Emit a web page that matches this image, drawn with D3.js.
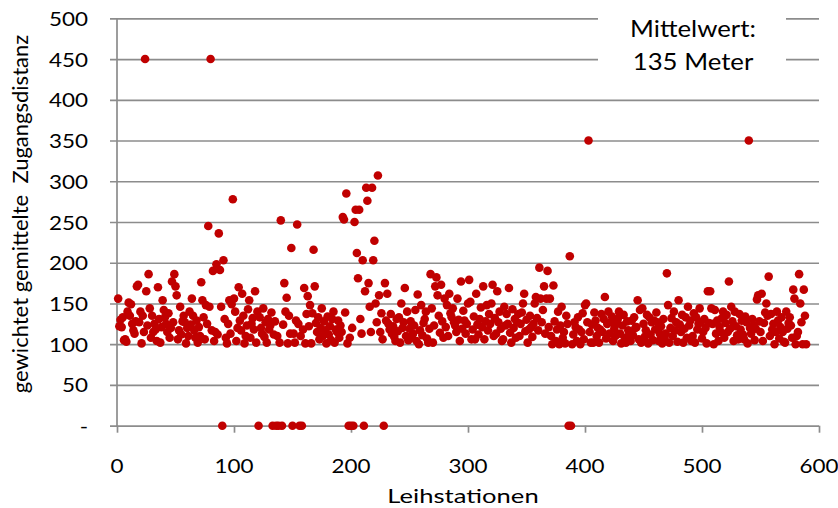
<!DOCTYPE html>
<html>
<head>
<meta charset="utf-8">
<script src="https://cdn.jsdelivr.net/npm/d3@7/dist/d3.min.js"></script>
<style>
  html, body { margin: 0; padding: 0; background: #fff; }
  svg { display: block; font-family: Lato, "Open Sans", sans-serif; }
</style>
</head>
<body>
<svg id="chart" width="838" height="508"></svg>
<script>
// Gewichtete gemittelte Zugangsdistanz je Leihstation (Meter), Station 1..589
const zugangsdistanz = [
  156,122,130,121,133,105,106,103,140,151,
  135,149,125,117,113,128,171,173,127,140,
  101,135,115,450,165,123,186,144,108,135,
  115,125,118,104,170,131,102,121,154,142,
  133,125,115,138,108,120,177,127,186,171,
  160,106,117,146,112,128,135,127,101,120,
  110,140,124,156,135,117,108,129,102,121,
  110,176,154,133,106,148,125,245,146,450,
  117,190,104,115,198,112,236,191,146,0,
  203,131,108,101,125,154,113,149,278,156,
  140,104,120,170,129,117,162,135,101,110,
  123,143,154,108,125,132,118,165,102,140,
  0,133,120,113,144,109,127,102,131,118,
  123,139,0,112,128,0,110,0,102,252,
  0,124,175,140,157,101,135,113,218,0,
  113,102,129,247,125,0,110,0,118,169,
  101,137,159,122,148,101,138,216,171,126,
  115,133,106,120,144,110,128,117,101,134,
  112,122,105,131,140,102,118,115,129,108,
  123,115,256,253,139,285,101,0,108,0,
  120,0,250,265,212,181,265,131,113,203,
  0,165,292,276,175,146,115,292,203,227,
  150,127,307,160,115,138,106,0,175,129,
  162,125,118,137,113,122,109,104,131,116,
  133,102,150,120,127,169,110,140,105,119,
  128,108,113,123,142,104,161,100,117,148,
  111,126,131,140,107,102,119,186,144,102,
  123,171,182,160,135,114,173,128,108,156,
  121,148,110,162,138,133,144,127,123,115,
  156,130,104,177,119,141,129,113,125,150,
  179,152,106,118,134,106,162,124,112,131,
  145,121,171,106,128,148,117,137,125,150,
  173,110,132,113,165,127,140,119,104,106,
  146,123,137,125,169,114,102,143,120,131,
  108,127,137,110,125,139,150,162,116,130,
  102,118,135,121,109,125,150,158,132,117,
  194,156,127,142,171,113,156,190,121,156,
  110,100,172,128,104,118,140,100,123,146,
  108,115,101,135,125,0,208,0,100,112,
  127,121,104,133,118,100,115,138,106,148,
  150,127,350,115,102,124,102,139,129,110,
  120,102,118,137,115,131,158,107,125,140,
  113,127,134,104,119,110,125,131,140,113,
  101,123,136,108,102,128,117,113,104,129,
  111,133,120,121,154,106,142,102,144,125,
  109,117,136,101,133,112,127,105,129,118,
  139,127,104,113,122,101,131,108,113,187,
  148,102,120,132,110,140,117,127,103,154,
  124,115,136,102,119,133,108,146,123,129,
  104,110,138,102,133,118,125,144,127,107,
  115,131,120,101,165,126,165,144,125,100,
  142,113,129,104,121,115,132,140,108,126,
  136,115,177,119,146,128,104,140,122,111,
  106,137,118,129,112,106,134,127,101,350,
  120,113,131,123,105,119,155,160,128,115,
  162,104,126,139,150,135,183,110,137,118,
  125,100,115,140,129,107,121,133,115,103,
  102,140,119,126,133,123,108,167,156,100,
  110,115,186,150,127,100,167,135,100
];
const xTicks = [0, 100, 200, 300, 400, 500, 600];
const yTicks = [0, 50, 100, 150, 200, 250, 300, 350, 400, 450, 500];
const yTickLabels = ["-", "50", "100", "150", "200", "250", "300", "350", "400", "450", "500"];
const xTitle = "Leihstationen";
const yTitle = "gewichtet gemittelte  Zugangsdistanz";
const noteLines = ["Mittelwert:", "135 Meter"];

const svg = d3.select("#chart");
const plotLeft = 117, plotRight = 819, plotTop = 18.3, plotBottom = 425.7;
const gridColor = "#8c8c8c";
const dotColor = "#c00000";

const x = d3.scaleLinear().domain([0, 600]).range([plotLeft, plotRight]);
const y = d3.scaleLinear().domain([0, 500]).range([plotBottom, plotTop]);

// Text helper: horizontally stretched label anchored at (px, py)
function label(g, px, py, str, size, anchor, sx) {
  return g.append("text")
    .attr("transform", `translate(${px},${py}) scale(${sx},1)`)
    .attr("text-anchor", anchor)
    .attr("font-size", size)
    .attr("fill", "#000")
    .style("white-space", "pre")
    .text(str);
}

// Horizontal gridlines with left tick stubs
const yAxis = d3.axisLeft(y).tickValues(yTicks).tickFormat("");
const yG = svg.append("g").attr("transform", `translate(${plotRight},0)`).call(yAxis);
yG.select(".domain").remove();
yG.selectAll(".tick line")
  .attr("x1", 0).attr("x2", -(plotRight - plotLeft) - 7)
  .attr("stroke", gridColor).attr("stroke-width", 1.7);

// Vertical axis line
svg.append("line")
  .attr("x1", plotLeft).attr("x2", plotLeft)
  .attr("y1", y(500)).attr("y2", y(0) + 1)
  .attr("stroke", gridColor).attr("stroke-width", 1.7);

// Horizontal axis tick marks
const xAxis = d3.axisBottom(x).tickValues(xTicks).tickSize(7).tickFormat("");
const xG = svg.append("g").attr("transform", `translate(0,${plotBottom})`).call(xAxis);
xG.select(".domain").remove();
xG.selectAll(".tick line").attr("stroke", gridColor).attr("stroke-width", 1.7);

// Tick labels
const lab = svg.append("g");
yTicks.forEach((v, i) => {
  if (v === 0) label(lab, 84, y(v) + 7, yTickLabels[i], 19.5, "middle", 1.15);
  else label(lab, 88, y(v) + 7.5, yTickLabels[i], 19.5, "end", 1.15);
});
xTicks.forEach(v => label(lab, x(v), 473, String(v), 19.5, "middle", 1.15));

// Axis titles
label(lab, 463, 503, xTitle, 20, "middle", 1.28);
svg.append("text")
  .attr("transform", `translate(28,214) rotate(-90)`)
  .attr("text-anchor", "middle")
  .attr("font-size", 22)
  .style("white-space", "pre")
  .text(yTitle);

// Data points
svg.append("g").selectAll("circle")
  .data(zugangsdistanz)
  .join("circle")
  .attr("cx", (d, i) => x(i + 1))
  .attr("cy", d => y(d))
  .attr("r", 4.3)
  .attr("fill", dotColor);

// Annotation box with the mean value
const note = svg.append("g");
note.append("rect")
  .attr("x", 598).attr("y", 4).attr("width", 188).attr("height", 80)
  .attr("fill", "#fff");
label(note, 693, 37, noteLines[0], 23, "middle", 1.12);
label(note, 693, 70, noteLines[1], 23, "middle", 1.12);
</script>
</body>
</html>
